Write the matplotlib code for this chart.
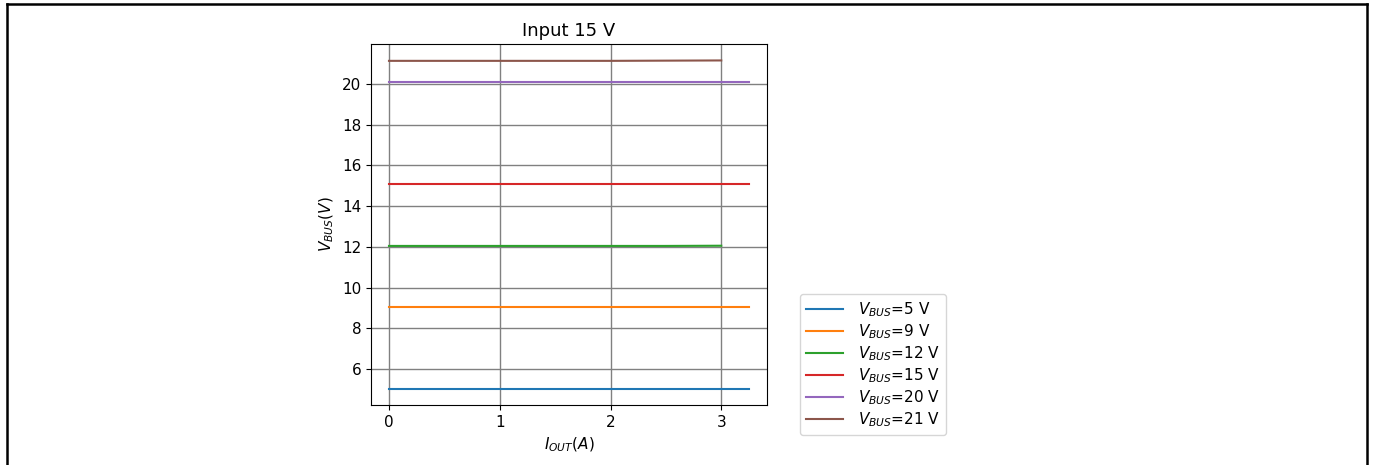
import numpy as np
import matplotlib
matplotlib.use('Agg')
import matplotlib.pyplot as plt
from matplotlib.lines import Line2D

# output current sweep (A)
i_out_long = [0.0, 0.5, 1.0, 1.5, 2.0, 2.5, 3.0, 3.25]
i_out_short = [0.0, 0.5, 1.0, 1.5, 2.0, 2.5, 3.0]

# measured bus voltage for each setpoint (V)
vbus_5 = [5.05, 5.05, 5.05, 5.05, 5.05, 5.05, 5.05, 5.05]
vbus_9 = [9.07, 9.07, 9.07, 9.07, 9.07, 9.07, 9.07, 9.07]
vbus_12 = [12.05, 12.05, 12.05, 12.05, 12.05, 12.05, 12.06]
vbus_15 = [15.10, 15.10, 15.10, 15.10, 15.10, 15.10, 15.10, 15.10]
vbus_20 = [20.09, 20.09, 20.09, 20.09, 20.09, 20.09, 20.09, 20.09]
vbus_21 = [21.13, 21.13, 21.13, 21.13, 21.13, 21.14, 21.15]

setpoints = [5, 9, 12, 15, 20, 21]


def main():
    fig = plt.figure(figsize=(13.73, 4.65), dpi=100)
    ax = fig.add_axes([0.2702, 0.1290, 0.2884, 0.7763])

    series = [
        (i_out_long, vbus_5),
        (i_out_long, vbus_9),
        (i_out_short, vbus_12),
        (i_out_long, vbus_15),
        (i_out_long, vbus_20),
        (i_out_short, vbus_21),
    ]
    for (x, y), sp in zip(series, setpoints):
        ax.plot(x, y, linewidth=1.5, label=rf'$V_{{BUS}}$={sp} V')

    ax.set_title('Input 15 V', fontsize=13)
    ax.set_xlabel(r'$I_{OUT}(A)$', fontsize=11)
    ax.set_ylabel(r'$V_{BUS}(V)$', fontsize=11)
    ax.set_xticks([0, 1, 2, 3])
    ax.set_yticks([6, 8, 10, 12, 14, 16, 18, 20])
    ax.tick_params(labelsize=11)
    ax.grid(True, color='gray', linewidth=1.0)
    ax.set_axisbelow(True)

    ax.legend(loc='lower left', bbox_to_anchor=(800 / 1373, 1 - 435 / 465),
              bbox_transform=fig.transFigure, borderaxespad=0, fontsize=11,
              labelspacing=0.22, handlelength=2.4, handletextpad=1.0)

    # screenshot frame
    lw = 1.8
    fig.add_artist(Line2D([7 / 1373, 7 / 1373], [0, 1 - 4 / 465], color='black',
                          linewidth=lw, transform=fig.transFigure))
    fig.add_artist(Line2D([7 / 1373, 1367 / 1373], [1 - 4 / 465, 1 - 4 / 465], color='black',
                          linewidth=lw, transform=fig.transFigure))
    fig.add_artist(Line2D([1367 / 1373, 1367 / 1373], [0, 1 - 4 / 465], color='black',
                          linewidth=lw, transform=fig.transFigure))

    plt.savefig('out.png', dpi=100)


if __name__ == '__main__':
    main()
